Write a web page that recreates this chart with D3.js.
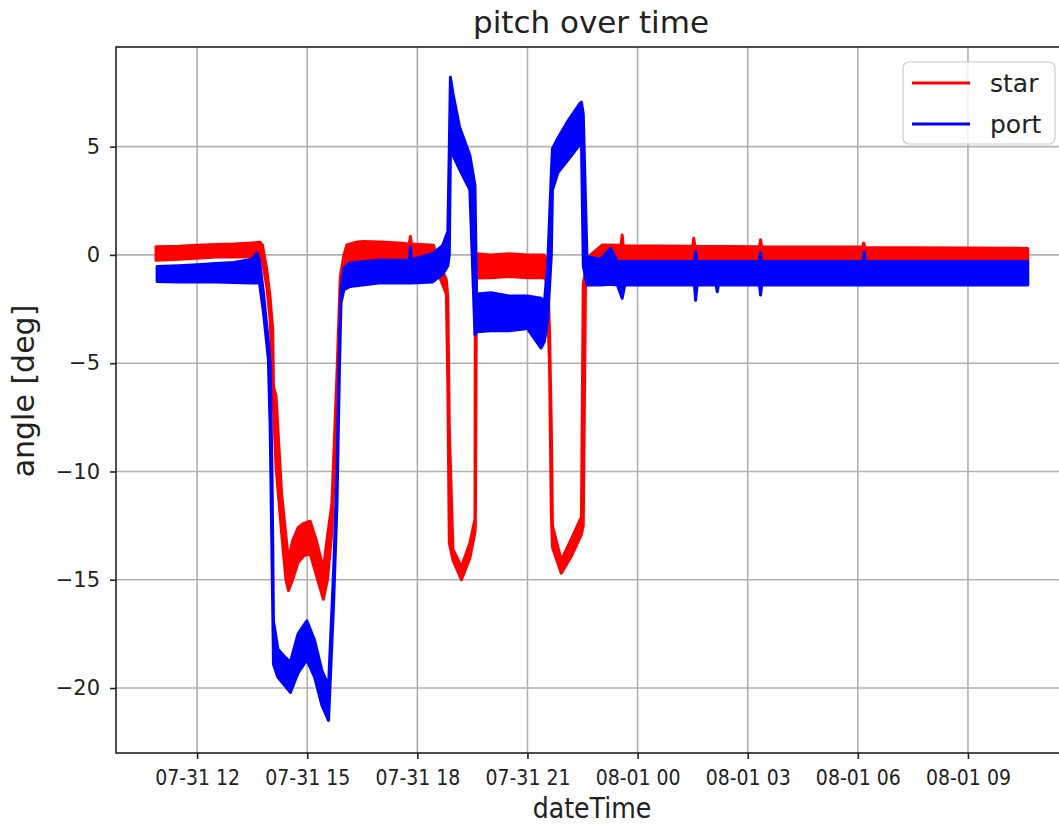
<!DOCTYPE html>
<html>
<head>
<meta charset="utf-8">
<script src="https://cdn.jsdelivr.net/npm/d3@7"></script>
<style>
body { margin: 0; background: #fff; }
</style>
</head>
<body>
<script>
// hours since 07-31 00:00, band low / high in deg (noise envelope)
var starTime = [10.88, 11.5, 12.0, 12.5, 13.0, 13.5, 13.72, 13.78, 13.90, 13.99,
  14.06, 14.08, 14.15, 14.30, 14.42, 14.49, 14.60, 14.75, 14.90, 15.08,
  15.25, 15.44, 15.55, 15.67, 15.81, 15.90, 16.00, 16.08, 16.36, 16.53,
  17.0, 17.5, 17.78, 17.81, 17.84, 18.44, 18.60, 18.79, 18.83, 18.87,
  18.97, 19.20, 19.43, 19.57, 19.58, 19.61, 20.0, 20.5, 21.0, 21.45,
  21.51, 21.55, 21.60, 21.65, 21.68, 21.92, 22.20, 22.47, 22.52, 22.58,
  22.72, 23.04, 23.55, 23.58, 23.61, 25.50, 25.53, 25.56, 27.32, 27.35,
  27.38, 30.13, 30.16, 30.19, 34.63];
var starLow = [-0.25, -0.2, -0.15, -0.1, -0.1, -0.08, -0.05, -0.3, -1.5, -3.0,
  -6.3, -7.0, -9.8, -12.8, -15.0, -15.5, -15.0, -14.2, -13.9, -13.8,
  -14.8, -15.9, -15.0, -12.8, -7.0, -2.0, -0.6, -0.38, -0.25, -0.23,
  -0.2, -0.2, -0.2, -0.2, -0.2, -0.15, -1.0, -1.8, -6.0, -13.3,
  -14.1, -15.0, -14.0, -12.8, -12.5, -1.07, -1.05, -1.0, -1.05, -1.05,
  -1.2, -2.5, -5.0, -12.0, -13.5, -14.7, -13.9, -12.9, -12.5, -1.5,
  -0.6, -0.38, -0.3, -0.3, -0.3, -0.3, -0.3, -0.3, -0.3, -0.3,
  -0.3, -0.3, -0.3, -0.3, -0.3];
var starHigh = [0.38, 0.4, 0.45, 0.48, 0.5, 0.55, 0.58, 0.45, -0.7, -2.0,
  -3.5, -6.1, -6.5, -11.0, -13.0, -14.1, -13.2, -12.6, -12.4, -12.3,
  -13.2, -14.5, -13.0, -11.5, -5.5, -1.0, 0.0, 0.46, 0.6, 0.62,
  0.6, 0.55, 0.5, 0.85, 0.5, 0.45, -0.4, -1.15, -2.0, -8.0,
  -13.6, -14.4, -13.3, -12.2, 0.0, 0.05, 0.0, 0.05, 0.0, 0.0,
  -0.2, -1.0, -3.5, -8.0, -12.5, -14.1, -13.1, -12.1, -1.3, -0.8,
  0.0, 0.46, 0.45, 0.92, 0.42, 0.4, 0.77, 0.4, 0.38, 0.7,
  0.38, 0.36, 0.55, 0.34, 0.3];

var portTime = [10.91, 11.5, 12.0, 12.5, 13.0, 13.50, 13.63, 13.70, 13.81, 13.94,
  13.99, 14.04, 14.08, 14.20, 14.35, 14.54, 14.75, 14.99, 15.20, 15.40,
  15.58, 15.72, 15.81, 15.88, 15.92, 16.00, 16.17, 16.94, 17.78, 17.81,
  17.84, 18.41, 18.69, 18.83, 18.87, 18.90, 18.97, 19.15, 19.43, 19.57,
  19.61, 20.0, 20.5, 21.0, 21.37, 21.46, 21.55, 21.65, 21.68, 21.83,
  22.11, 22.43, 22.47, 22.52, 22.62, 23.0, 23.26, 23.45, 23.58, 23.65,
  25.55, 25.58, 25.62, 26.14, 26.17, 26.20, 27.32, 27.35, 27.38, 30.14,
  30.17, 30.20, 34.63];
var portLow = [-1.23, -1.25, -1.25, -1.25, -1.28, -1.3, -1.3, -1.3, -2.7, -4.8,
  -8.0, -14.0, -18.9, -19.5, -19.8, -20.2, -19.3, -18.7, -19.5, -20.8,
  -21.5, -16.0, -11.5, -5.0, -2.2, -1.6, -1.46, -1.3, -1.3, -1.3,
  -1.3, -1.25, -0.9, -0.5, 0.0, 4.6, 4.6, 3.95, 3.0, -3.7,
  -3.55, -3.5, -3.5, -3.4, -4.3, -4.0, -3.0, 0.0, 3.0, 3.8,
  4.4, 5.1, 5.3, -0.5, -1.39, -1.39, -1.35, -1.39, -2.0, -1.39,
  -1.39, -2.1, -1.39, -1.39, -1.7, -1.39, -1.39, -1.85, -1.39, -1.39,
  -1.39, -1.39, -1.39];
var portHigh = [-0.54, -0.5, -0.45, -0.4, -0.35, -0.2, 0.08, -0.25, -1.8, -4.0,
  -5.0, -10.0, -16.9, -18.2, -18.5, -18.8, -17.5, -16.9, -17.8, -19.2,
  -19.9, -14.5, -10.0, -4.0, -1.6, -0.6, -0.37, -0.25, -0.25, 0.37,
  -0.22, 0.05, 0.44, 1.08, 4.9, 8.2, 7.45, 5.9, 4.6, 3.2,
  -1.8, -1.75, -1.9, -1.9, -2.0, -2.2, -0.5, 3.8, 4.9, 5.4,
  6.2, 7.0, 7.05, 6.5, -0.08, -0.2, 0.3, -0.3, -0.3, -0.3,
  -0.3, 0.15, -0.3, -0.3, -0.3, -0.3, -0.3, 0.1, -0.3, -0.3,
  0.15, -0.3, -0.3];

var yTicks = [-20, -15, -10, -5, 0, 5];
var seriesNames = ["star", "port"];
var seriesColors = ["#ff0000", "#0000ff"];

var width = 1059;
var height = 826;
var margins = { top: 47, bottom: 73, left: 116, right: -11 };

var day0 = new Date(2019, 6, 31, 0, 0, 0);
var atHour = function(h) { return new Date(day0.getTime() + h * 3600 * 1000); };

var makeSeries = function(times, lows, highs) {
  return times.map(function(t, i) {
    return { date: atHour(t), lo: lows[i], hi: highs[i] };
  });
};

var series = [
  makeSeries(starTime, starLow, starHigh),
  makeSeries(portTime, portLow, portHigh)
];

var svg = d3.select("body").append("svg")
  .attr("width", width)
  .attr("height", height);

var plotLeft = margins.left;
var plotRight = width - margins.right;
var plotTop = margins.top;
var plotBottom = height - margins.bottom;

var xScale = d3.scaleTime()
  .domain([atHour(9.79), atHour(35.78)])
  .range([plotLeft, plotRight]);

var yScale = d3.scaleLinear()
  .domain([-23.0, 9.6])
  .range([plotBottom, plotTop]);

var xTicks = d3.timeHour.every(3).range(atHour(9.79), atHour(35.78));

// grid
var grid = svg.append("g");
xTicks.forEach(function(d) {
  grid.append("line")
    .attr("x1", xScale(d)).attr("x2", xScale(d))
    .attr("y1", plotTop).attr("y2", plotBottom)
    .attr("stroke", "#b0b0b0").attr("stroke-width", 1.6);
});
yTicks.forEach(function(d) {
  grid.append("line")
    .attr("x1", plotLeft).attr("x2", plotRight)
    .attr("y1", yScale(d)).attr("y2", yScale(d))
    .attr("stroke", "#b0b0b0").attr("stroke-width", 1.6);
});

svg.append("clipPath").attr("id", "plotclip")
  .append("rect")
  .attr("x", plotLeft).attr("y", plotTop)
  .attr("width", plotRight - plotLeft).attr("height", plotBottom - plotTop);

var band = d3.area()
  .x(function(d) { return xScale(d.date); })
  .y0(function(d) { return yScale(d.lo); })
  .y1(function(d) { return yScale(d.hi); });

var lines = svg.append("g").attr("clip-path", "url(#plotclip)");
series.forEach(function(s, i) {
  lines.append("path")
    .datum(s)
    .attr("d", band)
    .attr("fill", seriesColors[i])
    .attr("stroke", seriesColors[i])
    .attr("stroke-width", 3)
    .attr("stroke-linejoin", "round");
});

// axes
var xAxis = d3.axisBottom(xScale)
  .tickValues(xTicks)
  .tickFormat(d3.timeFormat("%m-%d %H"))
  .tickSize(6)
  .tickPadding(11);

var yAxis = d3.axisLeft(yScale)
  .tickValues(yTicks)
  .tickFormat(function(d) { return d < 0 ? "\u2212" + Math.abs(d) : d; })
  .tickSize(6)
  .tickPadding(10);

var gx = svg.append("g")
  .attr("transform", "translate(0," + plotBottom + ")")
  .call(xAxis);
gx.select(".domain").remove();
gx.selectAll(".tick line").attr("stroke", "#222").attr("stroke-width", 1.6);
gx.selectAll("text")
  .attr("fill", "#222")
  .style("font-family", "'DejaVu Sans Condensed', 'DejaVu Sans', sans-serif")
  .style("font-stretch", "condensed")
  .style("font-size", "21px");

var gy = svg.append("g")
  .attr("transform", "translate(" + plotLeft + ",0)")
  .call(yAxis);
gy.select(".domain").remove();
gy.selectAll(".tick line").attr("stroke", "#222").attr("stroke-width", 1.6);
gy.selectAll("text")
  .attr("fill", "#222")
  .style("font-family", "'DejaVu Sans', sans-serif")
  .style("font-size", "21px");

// frame
svg.append("rect")
  .attr("x", plotLeft).attr("y", plotTop)
  .attr("width", plotRight - plotLeft).attr("height", plotBottom - plotTop)
  .attr("fill", "none")
  .attr("stroke", "#222")
  .attr("stroke-width", 1.6);

// labels
svg.append("text")
  .attr("x", (plotLeft + plotRight) / 2 - 2)
  .attr("y", 33)
  .attr("text-anchor", "middle")
  .style("font-family", "'DejaVu Sans', sans-serif")
  .style("font-size", "31px")
  .attr("fill", "#222")
  .text("pitch over time");

svg.append("text")
  .attr("x", (plotLeft + plotRight) / 2 - 1)
  .attr("y", 818)
  .attr("text-anchor", "middle")
  .style("font-family", "'DejaVu Sans Condensed', 'DejaVu Sans', sans-serif")
  .style("font-stretch", "condensed")
  .style("font-size", "28px")
  .attr("fill", "#222")
  .text("dateTime");

svg.append("text")
  .attr("transform", "translate(34,391) rotate(-90)")
  .attr("text-anchor", "middle")
  .style("font-family", "'DejaVu Sans', sans-serif")
  .style("font-size", "30px")
  .attr("fill", "#222")
  .text("angle [deg]");

// legend
var legend = svg.append("g");
legend.append("rect")
  .attr("x", 903).attr("y", 62)
  .attr("width", 152).attr("height", 82)
  .attr("rx", 6)
  .attr("fill", "#fff").attr("fill-opacity", 0.8)
  .attr("stroke", "#cccccc").attr("stroke-width", 1.2);

seriesNames.forEach(function(name, i) {
  var ly = 83 + i * 41;
  legend.append("line")
    .attr("x1", 912).attr("x2", 970)
    .attr("y1", ly).attr("y2", ly)
    .attr("stroke", seriesColors[i])
    .attr("stroke-width", 3);
  legend.append("text")
    .attr("x", 990)
    .attr("y", ly + 9)
    .style("font-family", "'DejaVu Sans', sans-serif")
    .style("font-size", "25px")
    .attr("fill", "#222")
    .text(name);
});
</script>
</body>
</html>
